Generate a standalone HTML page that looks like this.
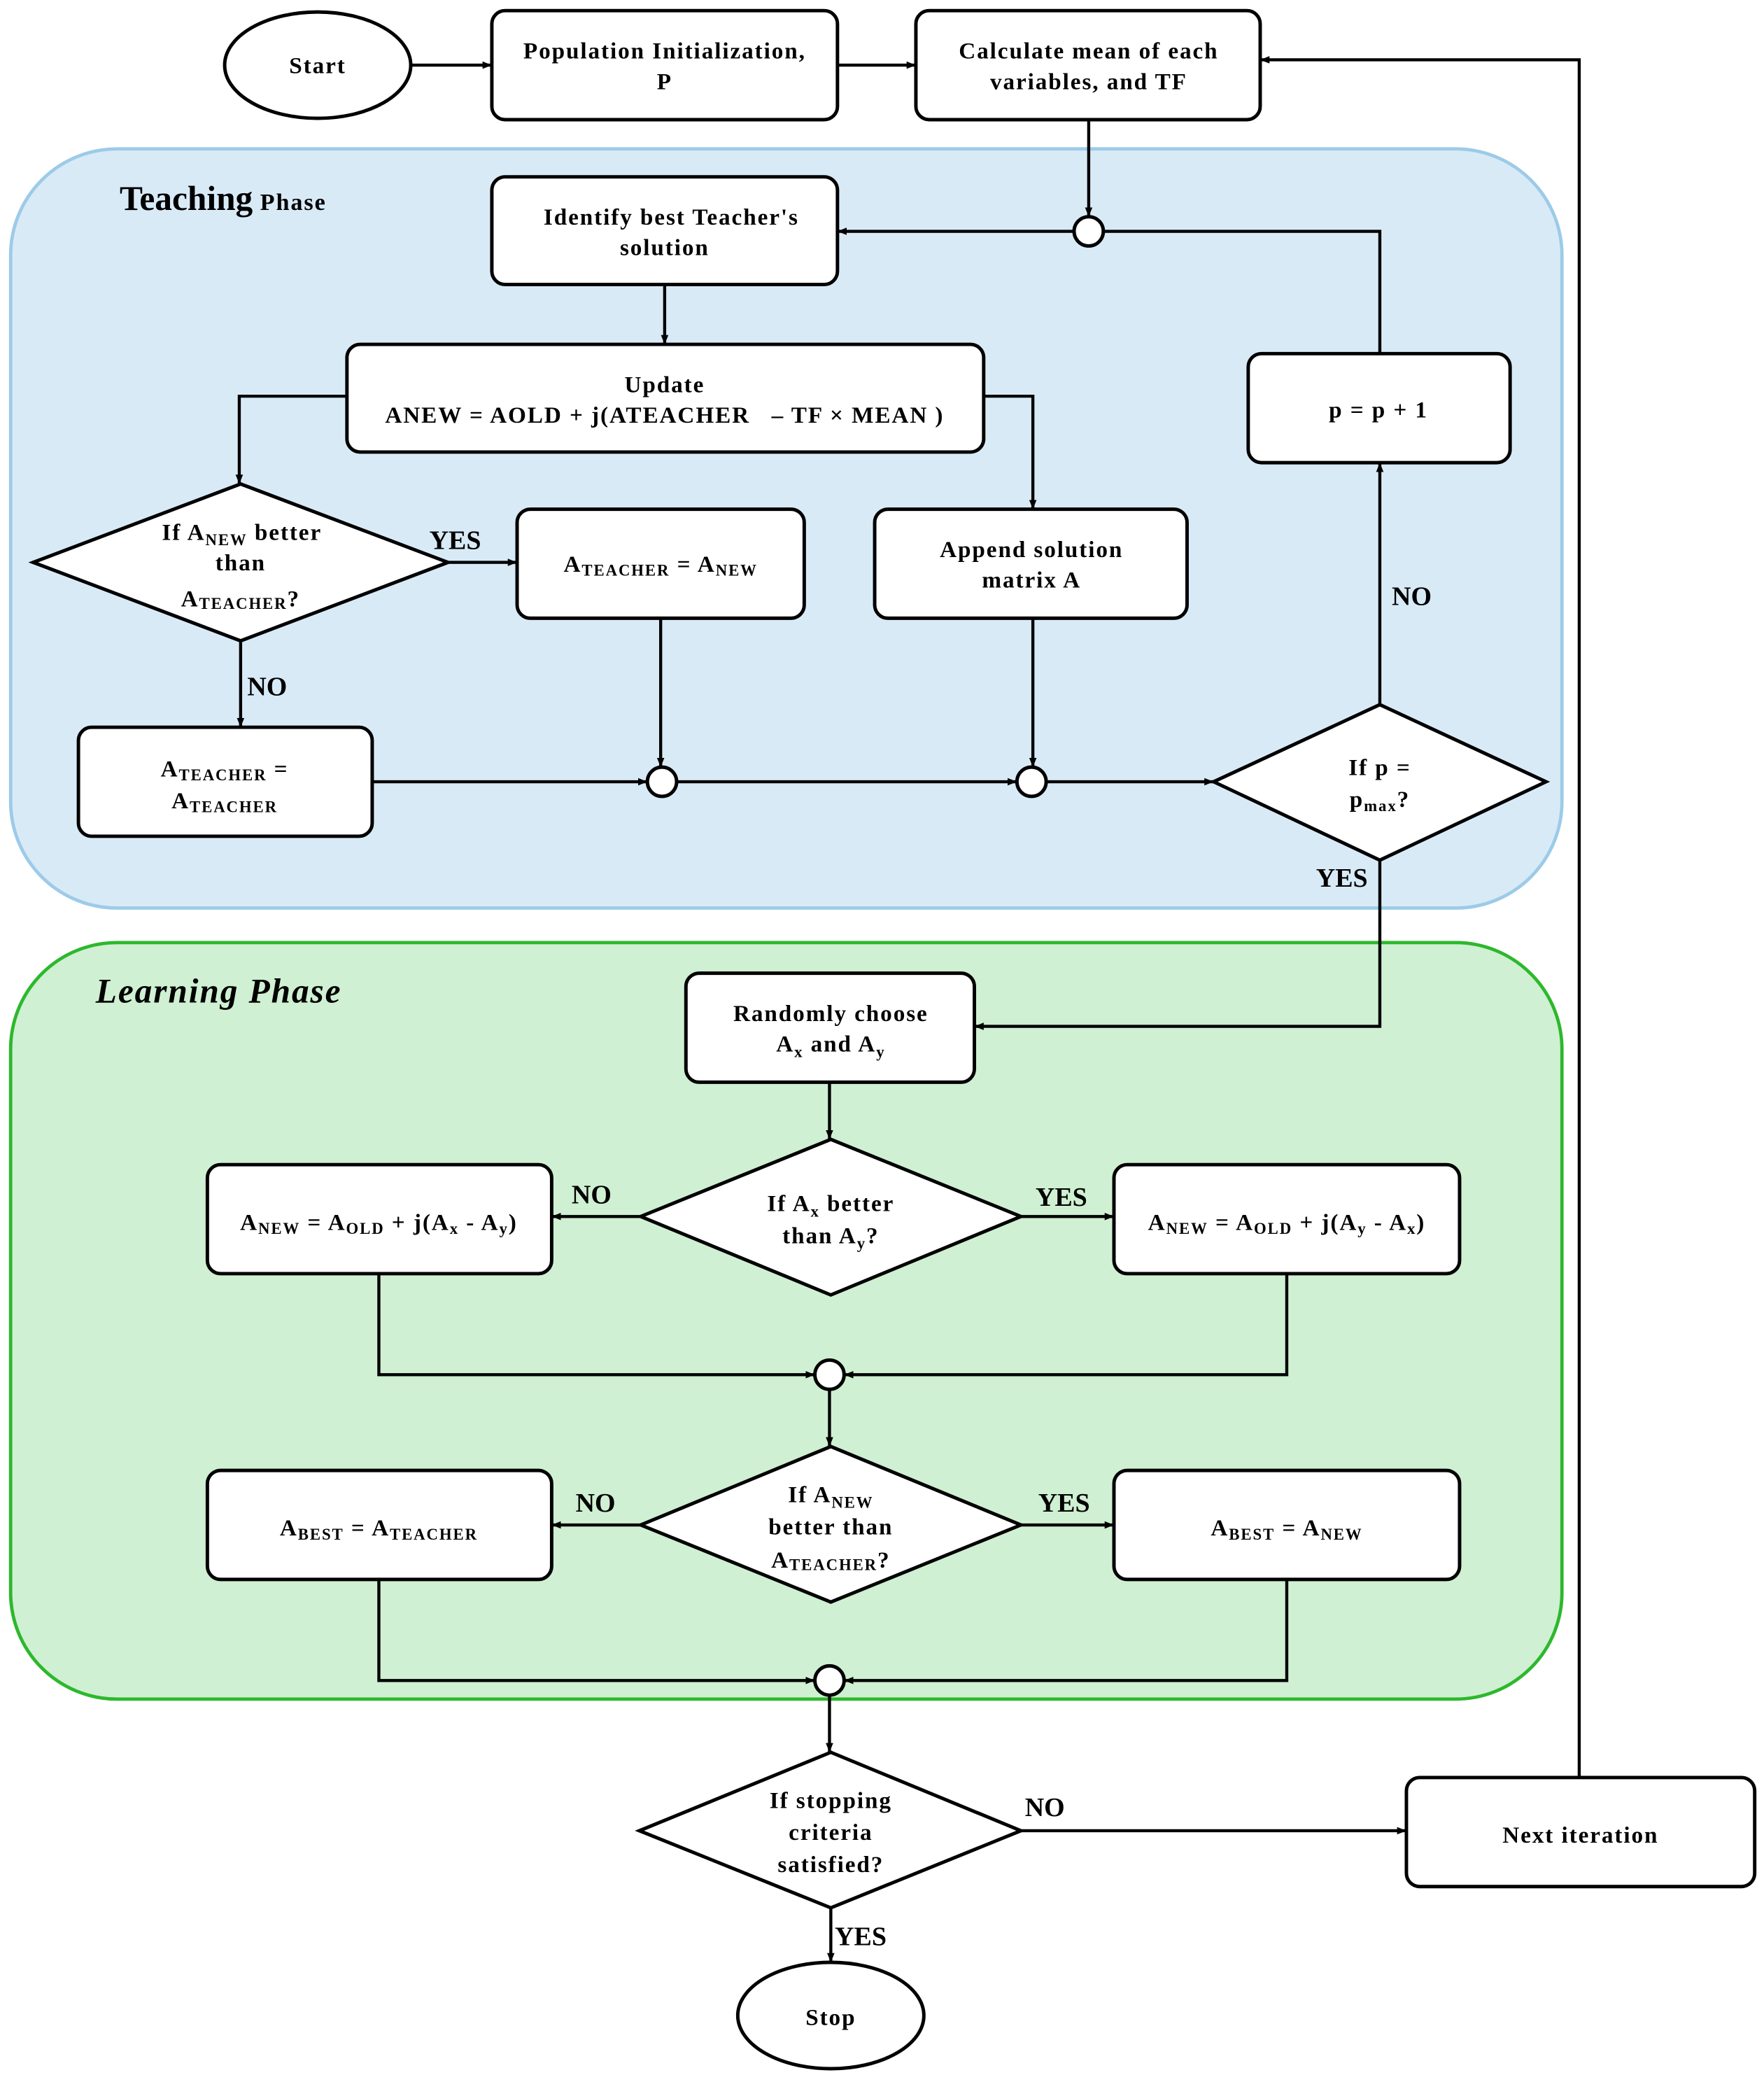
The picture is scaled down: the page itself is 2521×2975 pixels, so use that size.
<!DOCTYPE html>
<html><head><meta charset="utf-8">
<style>
html,body{margin:0;padding:0;background:#fff;}
svg{display:block;}
text{font-family:"Liberation Serif",serif;font-weight:bold;fill:#000;}
.t text{letter-spacing:1px;}
</style></head><body>
<svg width="2521" height="2975" viewBox="0 0 1327 1566" preserveAspectRatio="none" xmlns="http://www.w3.org/2000/svg">
<defs>
<marker id="a" viewBox="0 0 10 10" refX="10" refY="5" markerWidth="7" markerHeight="7" orient="auto" markerUnits="userSpaceOnUse"><path d="M0,1 L10,5 L0,9 z" fill="#000"/></marker>
</defs>
<g>
<rect x="8" y="112" width="1167" height="571" rx="80" fill="#d9eaf7" stroke="#9ccbe8" stroke-width="2.5"/>
<rect x="8" y="709" width="1167" height="569" rx="80" fill="#cff0d2" stroke="#2db82d" stroke-width="2.5"/>
<text x="90" y="158" font-size="26">Teaching<tspan font-size="18" letter-spacing="1"> Phase</tspan></text>
<text x="72" y="754" font-size="26" font-style="italic" letter-spacing="1">Learning Phase</text>
</g>
<g fill="#fff" stroke="#000" stroke-width="2.6">
<ellipse cx="239" cy="49" rx="70" ry="40"/>
<rect x="370" y="8" width="260" height="82" rx="10"/>
<rect x="689" y="8" width="259" height="82" rx="10"/>
<rect x="370" y="133" width="260" height="81" rx="10"/>
<rect x="261" y="259" width="479" height="81" rx="10"/>
<rect x="389" y="383" width="216" height="82" rx="10"/>
<rect x="658" y="383" width="235" height="82" rx="10"/>
<rect x="59" y="547" width="221" height="82" rx="10"/>
<rect x="939" y="266" width="197" height="82" rx="10"/>
<polygon points="25,423 181,364 337,423 181,482"/>
<polygon points="913,588 1038,530 1163,588 1038,647"/>
<rect x="516" y="732" width="217" height="82" rx="10"/>
<polygon points="482,915 625,857 768,915 625,974"/>
<rect x="156" y="876" width="259" height="82" rx="10"/>
<rect x="838" y="876" width="260" height="82" rx="10"/>
<polygon points="482,1147 625,1088 768,1147 625,1205"/>
<rect x="156" y="1106" width="259" height="82" rx="10"/>
<rect x="838" y="1106" width="260" height="82" rx="10"/>
<polygon points="481,1377 625,1318 768,1377 625,1435"/>
<rect x="1058" y="1337" width="262" height="82" rx="10"/>
<ellipse cx="625" cy="1516" rx="70" ry="40"/>
<circle cx="819" cy="174" r="11"/>
<circle cx="498" cy="588" r="11"/>
<circle cx="776" cy="588" r="11"/>
<circle cx="624" cy="1034" r="11"/>
<circle cx="624" cy="1264" r="11"/>
</g>
<g fill="none" stroke="#000" stroke-width="2.3" marker-end="url(#a)">
<path d="M309,49 H370"/>
<path d="M630,49 H689"/>
<path d="M1188,1337 V45 H948"/>
<path d="M819,90 V163"/>
<path d="M808,174 H630"/>
<path d="M1038,266 V174 H830" marker-end="none"/>
<path d="M500,214 V259"/>
<path d="M261,298 H180 V364"/>
<path d="M740,298 H777 V383"/>
<path d="M337,423 H389"/>
<path d="M181,482 V547"/>
<path d="M497,465 V577"/>
<path d="M777,465 V577"/>
<path d="M280,588 H487"/>
<path d="M509,588 H765"/>
<path d="M787,588 H913"/>
<path d="M1038,530 V348"/>
<path d="M1038,647 V772 H733"/>
<path d="M624,814 V857"/>
<path d="M482,915 H415"/>
<path d="M768,915 H838"/>
<path d="M285,958 V1034 H613"/>
<path d="M968,958 V1034 H635"/>
<path d="M624,1045 V1088"/>
<path d="M482,1147 H415"/>
<path d="M768,1147 H838"/>
<path d="M285,1188 V1264 H613"/>
<path d="M968,1188 V1264 H635"/>
<path d="M624,1275 V1318"/>
<path d="M768,1377 H1058"/>
<path d="M625,1435 V1476"/>
</g>
<g class="t" font-size="17.5" text-anchor="middle">
<text x="239" y="55">Start</text>
<text x="500" y="44">Population Initialization,</text>
<text x="500" y="67">P</text>
<text x="819" y="44">Calculate mean of each</text>
<text x="819" y="67">variables, and TF</text>
<text x="505" y="169">Identify best Teacher's</text>
<text x="500" y="192">solution</text>
<text x="500" y="295">Update</text>
<text x="500" y="318">ANEW = AOLD + j(ATEACHER &#160;&#160;– TF × MEAN )</text>
<text x="182" y="406">If A<tspan font-size="12" dy="4">NEW</tspan><tspan dy="-4"> better</tspan></text>
<text x="181" y="429">than</text>
<text x="181" y="456">A<tspan font-size="12" dy="2">TEACHER</tspan><tspan dy="-2">?</tspan></text>
<text x="497" y="430">A<tspan font-size="12" dy="3">TEACHER</tspan><tspan dy="-3"> = A</tspan><tspan font-size="12" dy="3">NEW</tspan></text>
<text x="776" y="419">Append solution</text>
<text x="776" y="442">matrix A</text>
<text x="169" y="584">A<tspan font-size="12" dy="3">TEACHER</tspan><tspan dy="-3"> =</tspan></text>
<text x="169" y="608">A<tspan font-size="12" dy="3">TEACHER</tspan></text>
<text x="1037" y="314">p = p + 1</text>
<text x="1038" y="583">If p =</text>
<text x="1038" y="607">p<tspan font-size="12" dy="3">max</tspan><tspan dy="-3">?</tspan></text>
<text x="625" y="768">Randomly choose</text>
<text x="625" y="791">A<tspan font-size="12" dy="4">x</tspan><tspan dy="-4"> and A</tspan><tspan font-size="12" dy="4">y</tspan></text>
<text x="625" y="911">If A<tspan font-size="12" dy="4">x</tspan><tspan dy="-4"> better</tspan></text>
<text x="625" y="935">than A<tspan font-size="12" dy="4">y</tspan><tspan dy="-4">?</tspan></text>
<text x="285" y="925">A<tspan font-size="12" dy="3">NEW</tspan><tspan dy="-3"> = A</tspan><tspan font-size="12" dy="3">OLD</tspan><tspan dy="-3"> + j(A</tspan><tspan font-size="12" dy="3">x</tspan><tspan dy="-3"> - A</tspan><tspan font-size="12" dy="3">y</tspan><tspan dy="-3">)</tspan></text>
<text x="968" y="925">A<tspan font-size="12" dy="3">NEW</tspan><tspan dy="-3"> = A</tspan><tspan font-size="12" dy="3">OLD</tspan><tspan dy="-3"> + j(A</tspan><tspan font-size="12" dy="3">y</tspan><tspan dy="-3"> - A</tspan><tspan font-size="12" dy="3">x</tspan><tspan dy="-3">)</tspan></text>
<text x="625" y="1130">If A<tspan font-size="12" dy="4">NEW</tspan></text>
<text x="625" y="1154">better than</text>
<text x="625" y="1179">A<tspan font-size="12" dy="2">TEACHER</tspan><tspan dy="-2">?</tspan></text>
<text x="285" y="1155">A<tspan font-size="12" dy="3">BEST</tspan><tspan dy="-3"> = A</tspan><tspan font-size="12" dy="3">TEACHER</tspan></text>
<text x="968" y="1155">A<tspan font-size="12" dy="3">BEST</tspan><tspan dy="-3"> = A</tspan><tspan font-size="12" dy="3">NEW</tspan></text>
<text x="625" y="1360">If stopping</text>
<text x="625" y="1384">criteria</text>
<text x="625" y="1408">satisfied?</text>
<text x="1189" y="1386">Next iteration</text>
<text x="625" y="1523">Stop</text>
</g>
<g font-size="20">
<text x="323" y="413">YES</text>
<text x="186" y="523">NO</text>
<text x="1047" y="455">NO</text>
<text x="990" y="667">YES</text>
<text x="430" y="905">NO</text>
<text x="779" y="907">YES</text>
<text x="433" y="1137">NO</text>
<text x="781" y="1137">YES</text>
<text x="771" y="1366">NO</text>
<text x="628" y="1463">YES</text>
</g>
</svg>
</body></html>
